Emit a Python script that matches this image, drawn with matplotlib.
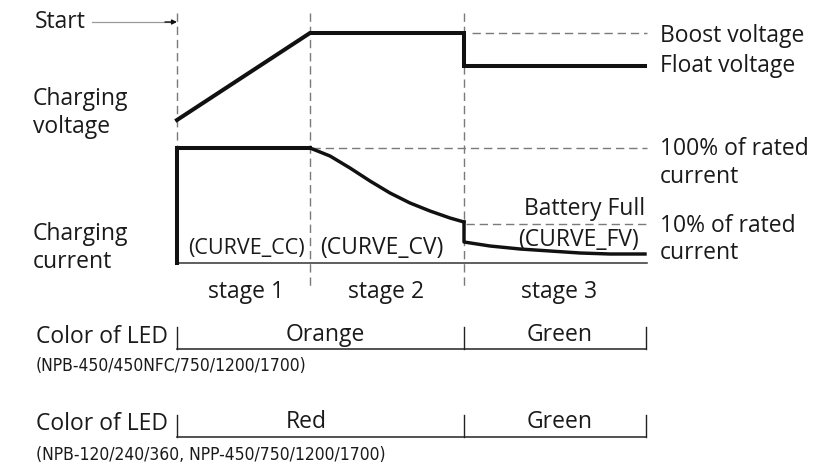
import matplotlib
matplotlib.use("Agg")
import matplotlib.pyplot as plt
import numpy as np

# ---- schematic data (diagram units = pixel grid of the reference) ----
stage_x = [177, 310, 464, 646]          # start, end stage1, end stage2, end stage3
stage_labels = ["stage 1", "stage 2", "stage 3"]
stage_label_x = [246, 386, 559]

# charging voltage trace
volt_x = [177, 310, 464, 464, 645]
volt_y = [120, 33, 33, 66, 66]
boost_level = 33
float_level = 66

# charging current trace
cur_cc_x = [177, 177, 310]
cur_cc_y = [263, 148, 148]
cur_cv_x = [310, 330, 350, 370, 390, 410, 430, 450, 464]
cur_cv_y = [148, 156, 168, 181, 193, 203, 211, 218, 222]
cur_fv_x = [464, 464, 490, 520, 550, 580, 610, 645]
cur_fv_y = [222, 242, 246, 249, 251, 253, 254, 254]
rated100 = 148
rated10 = 224
baseline = 263

curve_labels = ["(CURVE_CC)", "(CURVE_CV)"]
curve_label_x = [188, 320]

right_labels = [("Boost voltage", 42), ("Float voltage", 72),
                ("100% of rated", 155), ("current", 183),
                ("10% of rated", 232), ("current", 259)]

led_rows = [
    {"line_y": 349, "tick_top": 327, "text_y": 341, "label_y": 343,
     "left": "Orange", "right": "Green",
     "models": "(NPB-450/450NFC/750/1200/1700)", "models_y": 371},
    {"line_y": 437, "tick_top": 415, "text_y": 428, "label_y": 430,
     "left": "Red", "right": "Green",
     "models": "(NPB-120/240/360, NPP-450/750/1200/1700)", "models_y": 460},
]
led_left_x = 286
led_right_x = 560

# ---- drawing ----
W, H = 832, 466
fig = plt.figure(figsize=(W / 100, H / 100), dpi=100)
ax = fig.add_axes([0, 0, 1, 1])
ax.set_xlim(0, W)
ax.set_ylim(H, 0)
ax.axis("off")

FONT = ["Open Sans", "DejaVu Sans"]
FS = 16.5
TXT = "#1a1a1a"
DASH = (0, (6, 3.5))
GRAY = "#7a7a7a"
THICK = 2.9


def label(x, y, s, ha="left", fs=FS):
    ax.text(x, y, s, fontsize=fs, family=FONT, color=TXT, va="baseline", ha=ha)


# vertical dashed stage separators
ax.plot([stage_x[0], stage_x[0]], [13, baseline], ls=DASH, color=GRAY, lw=1.0)
for xs in stage_x[1:3]:
    ax.plot([xs, xs], [13, 287], ls=DASH, color=GRAY, lw=1.0)

# horizontal dashed reference levels
ax.plot([472, 647], [boost_level, boost_level], ls=DASH, color=GRAY, lw=1.0)
ax.plot([312, 647], [rated100, rated100], ls=DASH, color=GRAY, lw=1.0)
ax.plot([466, 647], [rated10, rated10], ls=DASH, color=GRAY, lw=1.0)

# current baseline
ax.plot([177, 647], [baseline, baseline], color="#333333", lw=1.1)

# traces
ax.plot(volt_x, volt_y, color="#111111", lw=THICK, solid_joinstyle="miter")
ax.plot(cur_cc_x, cur_cc_y, color="#111111", lw=THICK, solid_joinstyle="miter")
ax.plot(cur_cv_x, cur_cv_y, color="#111111", lw=THICK * 0.85)
ax.plot(cur_fv_x, cur_fv_y, color="#111111", lw=THICK * 0.85)

# Start marker
ax.plot([92, 170], [22, 22], color="#9a9a9a", lw=0.9)
ax.annotate("", xy=(177, 22), xytext=(165, 22),
            arrowprops=dict(arrowstyle="-|>", color="#111111", lw=1.0,
                            mutation_scale=7, shrinkA=0, shrinkB=0))
label(35, 28, "Start")

# left labels
label(33, 105, "Charging")
label(33, 133, "voltage")
label(33, 240, "Charging")
label(33, 268, "current")

# right labels
for txt, y in right_labels:
    label(660, y, txt)

label(645, 215, "Battery Full", ha="right")
label(518, 246, "(CURVE_FV)")

label(curve_label_x[0], 254, curve_labels[0], fs=15.5)
label(curve_label_x[1], 254, curve_labels[1])

for txt, x in zip(stage_labels, stage_label_x):
    label(x, 298, txt, ha="center")

# LED rows
for row in led_rows:
    label(36, row["label_y"], "Color of LED")
    ax.plot([stage_x[0], stage_x[3]], [row["line_y"], row["line_y"]],
            color="#222222", lw=1.1)
    for xs in [stage_x[0], stage_x[2], stage_x[3]]:
        ax.plot([xs, xs], [row["tick_top"], row["line_y"]], color="#222222", lw=1.0)
    label(led_left_x, row["text_y"], row["left"])
    label(led_right_x, row["text_y"], row["right"], ha="center")
    ax.text(36, row["models_y"], row["models"], fontsize=12.5,
            family="DejaVu Sans", fontstretch="condensed", color=TXT,
            va="baseline")

fig.savefig("out.png", dpi=100)
